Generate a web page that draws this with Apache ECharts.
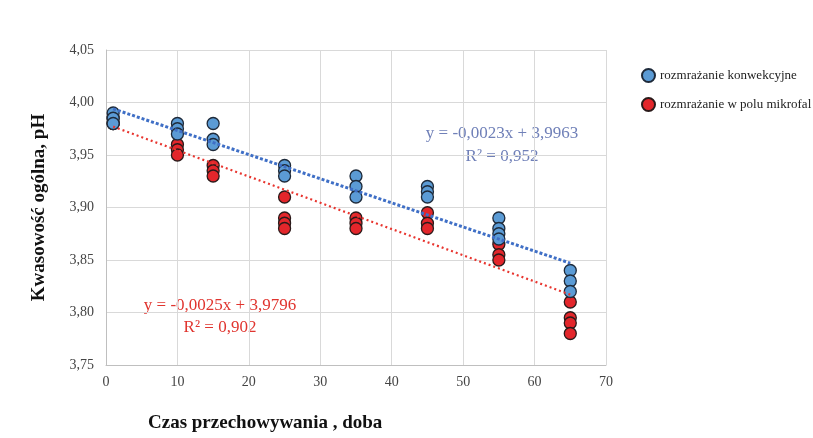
<!DOCTYPE html>
<html>
<head>
<meta charset="utf-8">
<script src="https://cdn.jsdelivr.net/npm/echarts@6/dist/echarts.min.js"></script>
<style>
 html, body { margin: 0; padding: 0; background: #fff; }
 #chart { width: 813px; height: 438px; }
</style>
</head>
<body>
<div id="chart"></div>
<script>
// dane: [doba, pH]
const konwekcyjne = [
 [1, 3.99], [1, 3.985], [1, 3.98],
 [10, 3.98], [10, 3.975], [10, 3.97],
 [15, 3.98], [15, 3.965], [15, 3.96],
 [25, 3.94], [25, 3.935], [25, 3.93],
 [35, 3.93], [35, 3.92], [35, 3.91],
 [45, 3.92], [45, 3.915], [45, 3.91],
 [55, 3.89], [55, 3.88], [55, 3.875], [55, 3.87],
 [65, 3.84], [65, 3.83], [65, 3.82]
]
const mikrofale = [
 [1, 3.98], [1, 3.98], [1, 3.985],
 [10, 3.96], [10, 3.955], [10, 3.95],
 [15, 3.94], [15, 3.935], [15, 3.93],
 [25, 3.91], [25, 3.89], [25, 3.885], [25, 3.88],
 [35, 3.89], [35, 3.885], [35, 3.88],
 [45, 3.895], [45, 3.885], [45, 3.88],
 [55, 3.865], [55, 3.855], [55, 3.85],
 [65, 3.81], [65, 3.795], [65, 3.79], [65, 3.78]
]
// linie trendu (końce)
const trendKonw = [[1, 3.994], [65, 3.847]]
const trendMikro = [[1, 3.977], [65, 3.817]]
const xTicks = [0, 10, 20, 30, 40, 50, 60, 70]
const yTicks = ['3,75', '3,80', '3,85', '3,90', '3,95', '4,00', '4,05']

const serif = 'Liberation Serif'
const gridColor = '#d9d9d9'

const option = {
 backgroundColor: '#ffffff',
 animation: false,
 textStyle: { fontFamily: serif },
 grid: { left: 106, right: 207, top: 50, bottom: 73 },
 legend: {
  data: ['rozmrażanie konwekcyjne', 'rozmrażanie w polu mikrofal'],
  orient: 'vertical',
  left: 636,
  top: 63,
  itemGap: 14,
  itemWidth: 13,
  itemHeight: 13,
  icon: 'circle',
  textStyle: { fontFamily: serif, fontSize: 13, color: '#222' }
 },
 xAxis: {
  type: 'value',
  min: 0,
  max: 70,
  interval: 10,
  axisLine: { show: true, lineStyle: { color: '#bfbfbf' } },
  axisTick: { show: false },
  axisLabel: {
   margin: 10,
   fontFamily: serif, fontSize: 14, color: '#444',
   formatter: v => xTicks.includes(v) ? String(v) : ''
  },
  splitLine: { show: true, lineStyle: { color: gridColor } }
 },
 yAxis: {
  type: 'value',
  min: 3.75,
  max: 4.05,
  interval: 0.05,
  name: 'Kwasowość ogólna, pH',
  nameLocation: 'middle',
  nameGap: 57,
  nameRotate: 90,
  nameTextStyle: { fontFamily: serif, fontSize: 19, fontWeight: 'bold', color: '#111' },
  axisLine: { show: true, lineStyle: { color: '#bfbfbf' } },
  axisTick: { show: false },
  axisLabel: {
   margin: 12,
   fontFamily: serif, fontSize: 14, color: '#444',
   formatter: v => yTicks[Math.round((v - 3.75) / 0.05)] || ''
  },
  splitLine: { show: true, lineStyle: { color: gridColor } }
 },
 series: [
  {
   name: 'rozmrażanie w polu mikrofal',
   type: 'scatter',
   symbolSize: 12,
   z: 2,
   itemStyle: { color: '#e3262b', borderColor: '#2a1a1a', borderWidth: 1.3, opacity: 1 },
   data: mikrofale
  },
  {
   name: 'rozmrażanie konwekcyjne',
   type: 'scatter',
   symbolSize: 12,
   z: 3,
   itemStyle: { color: '#5b9bd5', borderColor: '#1e2a3a', borderWidth: 1.3, opacity: 1 },
   data: konwekcyjne
  },
  {
   name: 'trend mikrofale',
   type: 'line',
   z: 4,
   symbol: 'none',
   lineStyle: { color: '#e8352f', width: 2.2, type: [2, 3] },
   data: trendMikro
  },
  {
   name: 'trend konwekcyjne',
   type: 'line',
   z: 4,
   symbol: 'none',
   lineStyle: { color: '#3f6fc6', width: 3, type: [3, 2] },
   data: trendKonw
  }
 ],
 graphic: [
  {
   type: 'text', x: 502, y: 145,
   style: {
    text: 'y = -0,0023x + 3,9963\nR² = 0,952',
    align: 'center', verticalAlign: 'middle', lineHeight: 23,
    font: '17px "Liberation Serif"', fill: '#7080b8'
   }
  },
  {
   type: 'text', x: 220, y: 317,
   style: {
    text: 'y = -0,0025x + 3,9796\nR² = 0,902',
    align: 'center', verticalAlign: 'middle', lineHeight: 22,
    font: '17px "Liberation Serif"', fill: '#e0352f'
   }
  },
  {
   type: 'text', x: 148, y: 423,
   style: {
    text: 'Czas przechowywania , doba',
    align: 'left', verticalAlign: 'middle',
    font: 'bold 19px "Liberation Serif"', fill: '#111'
   }
  }
 ]
}

const chart = echarts.init(document.getElementById('chart'))
chart.setOption(option)
</script>
</body>
</html>
